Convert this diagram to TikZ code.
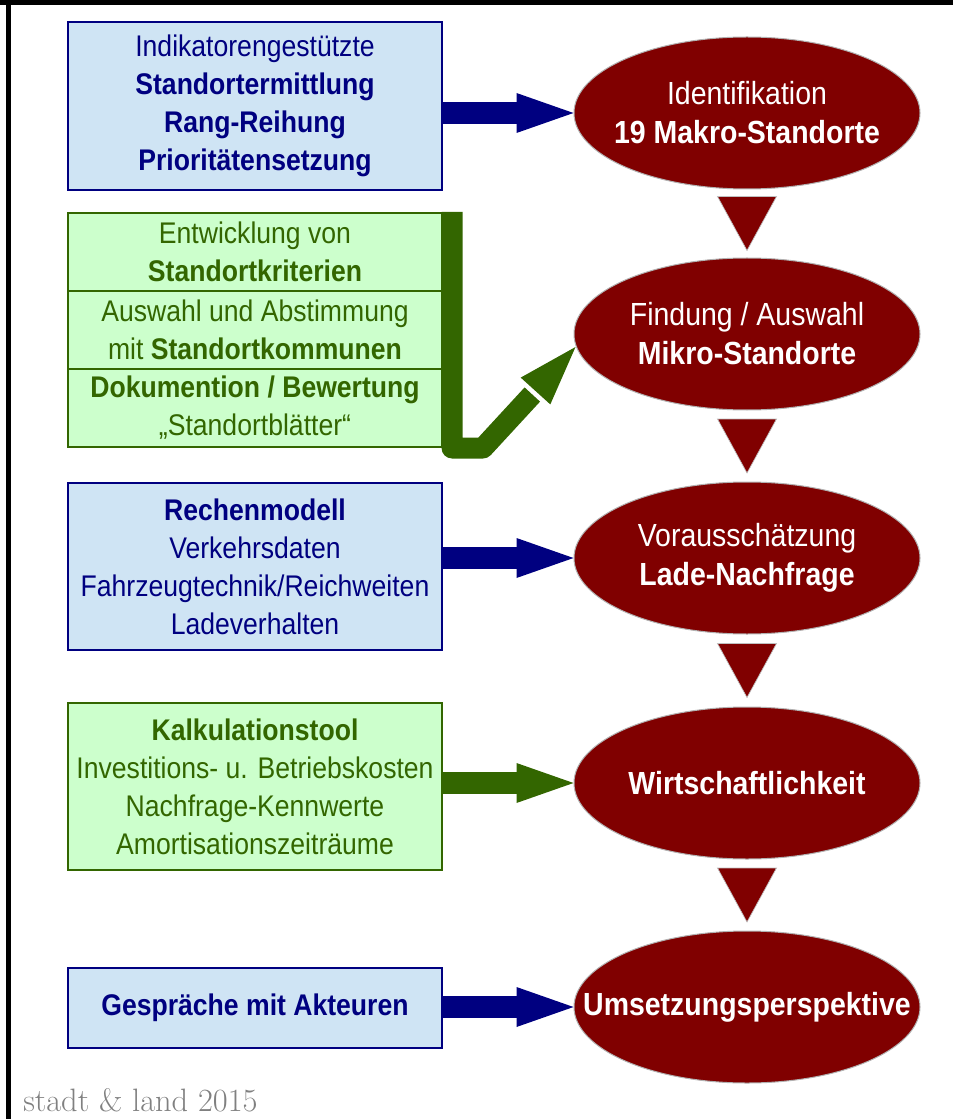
\documentclass[tikz,border=0pt]{standalone}
\usepackage{fontspec}
\newfontfamily\arial{Liberation Sans}[FakeStretch=0.89]
\usetikzlibrary{shapes.geometric,calc}
\definecolor{navy}{RGB}{0,0,128}
\definecolor{lblue}{RGB}{207,228,244}
\definecolor{lgreen}{RGB}{204,255,204}
\definecolor{dgreen}{RGB}{51,102,0}
\definecolor{maroon}{RGB}{128,0,0}
\definecolor{footgray}{RGB}{128,128,128}
\begin{document}
\begin{tikzpicture}[x=0.75pt,y=-0.75pt,
  boxbase/.style={line width=1.5pt, align=center, inner sep=0pt,
    minimum width=280.5pt, font=\arial\fontsize{22.4}{28.5}\selectfont},
  bluebox/.style={boxbase, draw=navy, fill=lblue, text=navy},
  greenbox/.style={boxbase, draw=dgreen, fill=lgreen, text=dgreen},
  ell/.style={ellipse, fill=maroon, draw=gray!60, line width=0.75pt,
    minimum width=259.5pt, minimum height=114pt, inner sep=0pt},
  etext/.style={text=white, align=center, inner sep=0pt,
    font=\arial\fontsize{24}{29.25}\selectfont},
  barB/.style={draw=navy, line width=16.5pt},
  barG/.style={draw=dgreen, line width=16.5pt},
  greenbar/.style={draw=dgreen, line width=15.75pt, line join=round},
  tri/.style={fill=maroon, draw=gray!50, line width=0.5pt}
]
\useasboundingbox (0,0) rectangle (953,1119);
% frame
\fill[black] (0,0) rectangle (953,5);
\fill[black] (6,0) rectangle (10.5,1119);

% left boxes
\node[bluebox, minimum height=126pt] (b1) at (255,106)
  {Indikatorengestützte\\\textbf{Standortermittlung}\\\textbf{Rang-Reihung}\\\textbf{Prioritätensetzung}};
\node[greenbox, minimum height=58.5pt] (g1) at (255,252)
  {Entwicklung von\\\textbf{Standortkriterien}};
\node[greenbox, minimum height=58.5pt] (g2) at (255,330)
  {Auswahl und Abstimmung\\mit \textbf{Standortkommunen}};
\node[greenbox, minimum height=58.5pt] (g3) at (255,408)
  {\textbf{Dokumention / Bewertung}\\„Standortblätter“};
\node[bluebox, minimum height=125.25pt] (b3) at (255,566.5)
  {\textbf{Rechenmodell}\\Verkehrsdaten\\Fahrzeugtechnik/Reichweiten\\Ladeverhalten};
\node[greenbox, minimum height=125.25pt] (b4) at (255,786.5)
  {\textbf{Kalkulationstool}\\Investitions- u. Betriebskosten\\Nachfrage-Kennwerte\\Amortisationszeiträume};
\node[bluebox, minimum height=60pt] (b5) at (255,1008)
  {\textbf{Gespräche mit Akteuren}};

% ellipses
\node[ell] (e1) at (747,113) {};
\node[etext] at (e1.center) {Identifikation\\\textbf{19 Makro-Standorte}};
\node[ell] (e2) at (747,334) {};
\node[etext] at (e2.center) {Findung / Auswahl\\\textbf{Mikro-Standorte}};
\node[ell] (e3) at (747,558) {};
\node[etext] at (e3.center) {Vorausschätzung\\\textbf{Lade-Nachfrage}};
\node[ell] (e4) at (747,783) {};
\node[etext] at (e4.center) {\textbf{Wirtschaftlichkeit}};
\node[ell] (e5) at (747,1007) {};
\node[etext] at (e5.center) {\textbf{Umsetzungsperspektive}};

% down triangles between ellipses
\foreach \a/\b in {e1/e2,e2/e3,e3/e4,e4/e5}{
  \fill[tri] ($(\a.south)!0.5!(\b.north)+(-29.5,-27)$) -- ++(59,0) -- ++(-29.5,54) -- cycle;
}

% straight arrows
\draw[barB] (b1.east |- e1.west) -- ($(e1.west)+(-52,0)$);
\fill[navy] (e1.west) -- ++(-57,-20) -- ++(0,40) -- cycle;
\draw[barB] (b3.east |- e3.west) -- ($(e3.west)+(-52,0)$);
\fill[navy] (e3.west) -- ++(-57,-20) -- ++(0,40) -- cycle;
\draw[barG] (b4.east |- e4.west) -- ($(e4.west)+(-52,0)$);
\fill[dgreen] (e4.west) -- ++(-57,-20) -- ++(0,40) -- cycle;
\draw[barB] (b5.east |- e5.west) -- ($(e5.west)+(-52,0)$);
\fill[navy] (e5.west) -- ++(-57,-20) -- ++(0,40) -- cycle;

% green bent arrow
\coordinate (gtip) at ($(e2.west)+(2,13)$);
\coordinate (gbase) at ($(gtip)+(-40,44)$);
\draw[greenbar] ($(g1.north east)+(9,0)$) -- ($(g3.south east)+(9,0)$) -- ++(31,0) -- ($(gbase)!-0.08!(gtip)$);
\fill[dgreen] (gtip) -- ($(gbase)+(-14.8,-13.4)$) -- ($(gbase)+(14.8,13.4)$) -- cycle;

% footer
\node[anchor=base west, inner sep=0pt, text=footgray, font=\fontsize{24.3}{28}\selectfont] (ft) at (23,1111) {stadt \& land 2015};
\end{tikzpicture}
\end{document}
